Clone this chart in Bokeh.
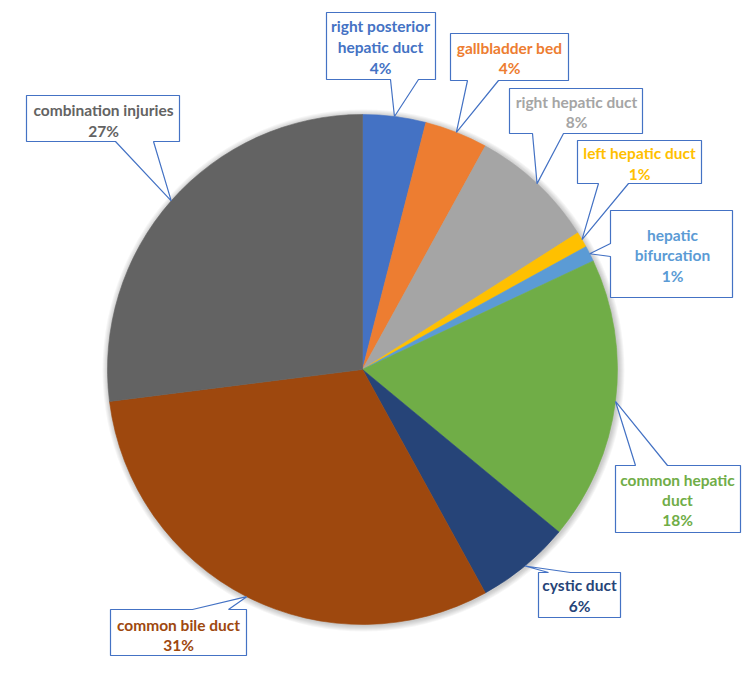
import math
from bokeh.plotting import figure
from bokeh.models import Range1d, ColumnDataSource
from bokeh.core.properties import value
from bokeh.embed import file_html
from bokeh.resources import INLINE

# ---- data ----
categories = ["right posterior hepatic duct", "gallbladder bed", "right hepatic duct",
              "left hepatic duct", "hepatic bifurcation", "common hepatic duct",
              "cystic duct", "common bile duct", "combination injuries"]
percents = [4, 4, 8, 1, 1, 18, 6, 31, 27]
colors = ["#4472C4", "#ED7D31", "#A5A5A5", "#FFC000", "#5B9BD5", "#70AD47",
          "#264478", "#9E480E", "#636363"]
label_lines = [["right posterior", "hepatic duct"], ["gallbladder bed"], ["right hepatic duct"],
               ["left hepatic duct"], ["hepatic", "bifurcation"], ["common hepatic", "duct"],
               ["cystic duct"], ["common bile duct"], ["combination injuries"]]

# ---- layout (screen pixels) ----
W, H = 744, 680
CX, CY, R = 362, 369, 255
# box: (x0, y0, x1, y1), side of pointer, pointer base (b0, b1), first text line y, text x, line step
boxes = [
    ((326, 12, 435, 79), "bottom", (390, 418), 25, 380, 21),
    ((450, 33, 568, 80), "bottom", (467, 498), 47, 509, 20),
    ((509, 88, 642, 133), "bottom", (532, 563), 101, 576, 20),
    ((577, 140, 701, 183), "bottom", (598, 628), 152, 639, 21),
    ((610, 210, 732, 297), "left", (243, 256), 234, 672, 20.5),
    ((615, 465, 740, 532), "top", (635, 667), 479, 677, 20),
    ((538, 572, 620, 617), "top", (548, 570), 584, 579, 21),
    ((110, 609, 246, 655), "top", (192, 228), 624, 178, 20),
    ((26, 95, 179, 141), "bottom", (115, 153), 109, 103, 21),
]

def dy(sy):
    return H - sy

p = figure(width=W, height=H, output_backend="svg", toolbar_location=None,
           x_range=Range1d(0, W), y_range=Range1d(0, H),
           x_axis_type=None, y_axis_type=None, min_border=0,
           min_border_left=0, min_border_right=0, min_border_top=0, min_border_bottom=0)
p.grid.visible = False
p.outline_line_color = None
p.background_fill_color = "white"

# soft shadow
for i in range(1, 7):
    p.circle(x=[CX + 1], y=[dy(CY) - 1], radius=R + i, fill_color="#000000",
             fill_alpha=0.035, line_color=None)

# wedges
total = sum(percents)
starts, ends, mids = [], [], []
cum = 0.0
for v in percents:
    a0 = math.pi / 2 - 2 * math.pi * cum / total
    cum += v
    a1 = math.pi / 2 - 2 * math.pi * cum / total
    starts.append(a0)
    ends.append(a1)
    mids.append((a0 + a1) / 2)

src = ColumnDataSource(dict(start=starts, end=ends, color=colors))
p.wedge(x=CX, y=dy(CY), radius=R, start_angle="start", end_angle="end",
        direction="clock", fill_color="color", line_color="color", line_width=0.6,
        source=src)

# callouts
for i, (box, side, base, ty, tx, step) in enumerate(boxes):
    x0, y0, x1, y1 = box
    ax = CX + R * math.cos(mids[i])
    ay = dy(CY) + R * math.sin(mids[i])
    b0, b1 = base
    if side == "bottom":
        pts = [(x0, y0), (x1, y0), (x1, y1), (b1, y1), None, (b0, y1), (x0, y1)]
    elif side == "top":
        pts = [(x0, y0), (b0, y0), None, (b1, y0), (x1, y0), (x1, y1), (x0, y1)]
    else:  # left
        pts = [(x0, y0), (x1, y0), (x1, y1), (x0, y1), (x0, b1), None, (x0, b0)]
    xs, ys = [], []
    for pt in pts:
        if pt is None:
            xs.append(ax)
            ys.append(ay)
        else:
            xs.append(pt[0])
            ys.append(dy(pt[1]))
    p.patch(xs, ys, fill_color="white", line_color="#4472C4", line_width=1.2)

    lines = label_lines[i] + [f"{percents[i]}%"]
    txs = [tx] * len(lines)
    tys = [dy(ty + k * step) for k in range(len(lines))]
    p.text(x=txs, y=tys, text=lines, text_align="center", text_baseline="middle",
           text_font=value("Lato"), text_font_style="bold", text_font_size="15.5px",
           text_color=colors[i])

open("out.html", "w").write(file_html(p, INLINE))
